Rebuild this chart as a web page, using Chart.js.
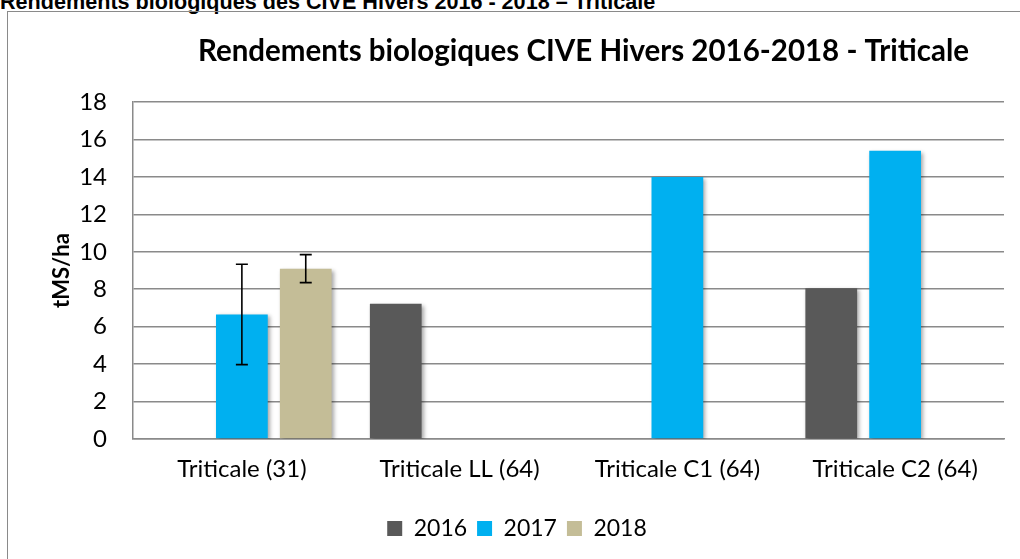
<!DOCTYPE html>
<html>
<head>
<meta charset="utf-8">
<script src="https://cdn.jsdelivr.net/npm/chart.js@4/dist/chart.umd.min.js"></script>
<style>
  body { margin: 0; background: #fff; overflow: hidden; }
  #wrap { position: relative; width: 1020px; height: 559px; }
  #cap { position: absolute; left: 0; top: -9px; font: bold 21.6px "Liberation Sans", Arial, sans-serif; line-height: 21px; white-space: nowrap; color: #000; }
  #box { position: absolute; left: 7px; top: 11px; width: 1030px; height: 570px; border: 1.5px solid #8a8a8a; }
  canvas { position: absolute; left: 0; top: 0; }
</style>
</head>
<body>
<div id="wrap">
  <div id="cap">Rendements biologiques des CIVE Hivers 2016 - 2018 – Triticale</div>
  <div id="box"></div>
  <canvas id="mycanvas" width="1020" height="559"></canvas>
</div>
<script>
var categories = ['Triticale (31)', 'Triticale LL (64)', 'Triticale C1 (64)', 'Triticale C2 (64)'];
var years = ['2016', '2017', '2018'];
var v2016 = [null, 7.23, null, 8.05];
var v2017 = [6.65, null, 14.0, 15.4];
var v2018 = [9.1, null, null, null];
var err2017 = [2.68, null, null, null];
var err2018 = [0.75, null, null, null];
var yTicks = [0, 2, 4, 6, 8, 10, 12, 14, 16, 18];
var chartTitle = 'Rendements biologiques CIVE Hivers 2016-2018 - Triticale';

var colors = ['#595959', '#00B0F0', '#C4BD97'];
var FONT = 'Lato, Carlito, Calibri, sans-serif';

var chartdata = {
  labels: categories,
  datasets: [
    { label: years[0], data: v2016, backgroundColor: colors[0], errors: [null, null, null, null] },
    { label: years[1], data: v2017, backgroundColor: colors[1], errors: err2017 },
    { label: years[2], data: v2018, backgroundColor: colors[2], errors: err2018 }
  ]
};

// soft shadow under the bars, then error bars on top
var errorBars = {
  id: 'errorBars',
  beforeDatasetsDraw: function(chart) {
    var ctx = chart.ctx;
    ctx.save();
    ctx.shadowColor = 'rgba(0,0,0,0.35)';
    ctx.shadowBlur = 4;
    ctx.shadowOffsetX = 2;
    ctx.shadowOffsetY = 2;
  },
  afterDatasetsDraw: function(chart) {
    var ctx = chart.ctx;
    ctx.restore();
    var yScale = chart.scales.y;
    ctx.save();
    ctx.strokeStyle = '#000';
    ctx.lineWidth = 1.6;
    chart.data.datasets.forEach(function(ds, i) {
      var meta = chart.getDatasetMeta(i);
      ds.errors.forEach(function(e, j) {
        if (e == null || ds.data[j] == null) return;
        var x = meta.data[j].x;
        var yTop = yScale.getPixelForValue(ds.data[j] + e);
        var yBot = yScale.getPixelForValue(ds.data[j] - e);
        ctx.beginPath();
        ctx.moveTo(x, yTop); ctx.lineTo(x, yBot);
        ctx.moveTo(x - 6, yTop); ctx.lineTo(x + 6, yTop);
        ctx.moveTo(x - 6, yBot); ctx.lineTo(x + 6, yBot);
        ctx.stroke();
      });
    });
    ctx.restore();
  },
  afterDraw: function(chart) {
    var ctx = chart.ctx;
    var a = chart.chartArea;
    ctx.save();
    ctx.fillStyle = '#000';
    ctx.font = 'bold 29.5px ' + FONT;
    ctx.textAlign = 'center';
    ctx.textBaseline = 'middle';
    ctx.fillText(chartTitle, (a.left + a.right) / 2 + 15, 51);
    ctx.restore();
  }
};

var ctx = document.getElementById('mycanvas');
var barGraph = new Chart(ctx, {
  type: 'bar',
  data: chartdata,
  plugins: [errorBars],
  options: {
    responsive: false,
    animation: false,
    categoryPercentage: 0.88,
    barPercentage: 0.81,
    layout: { padding: { left: 30, right: 16, top: 102, bottom: 9 } },
    plugins: {
      title: { display: false },
      legend: {
        position: 'bottom',
        labels: {
          color: '#000',
          font: { family: FONT, size: 23 },
          boxWidth: 15, boxHeight: 15,
          padding: 10
        }
      },
      tooltip: { enabled: false }
    },
    scales: {
      x: {
        grid: { display: false },
        border: { display: true, color: '#8a8a8a', width: 1.5 },
        ticks: { color: '#000', font: { family: FONT, size: 24 }, padding: 8 },
        afterFit: function(s) { s.height = 68; }
      },
      y: {
        min: 0, max: 18,
        afterBuildTicks: function(s) { s.ticks = yTicks.map(function(v) { return { value: v }; }); },
        grid: { color: '#8a8a8a', lineWidth: 1.5, drawTicks: false },
        border: { display: true, color: '#8a8a8a', width: 1.5 },
        ticks: { color: '#000', font: { family: FONT, size: 24 }, padding: 26 },
        title: {
          display: true, text: 'tMS/ha', color: '#000',
          font: { family: FONT, size: 22, weight: 'bold' },
          padding: { top: 19, bottom: 0 }
        },
        afterFit: function(s) { s.width = 103; }
      }
    }
  }
});
</script>
</body>
</html>
